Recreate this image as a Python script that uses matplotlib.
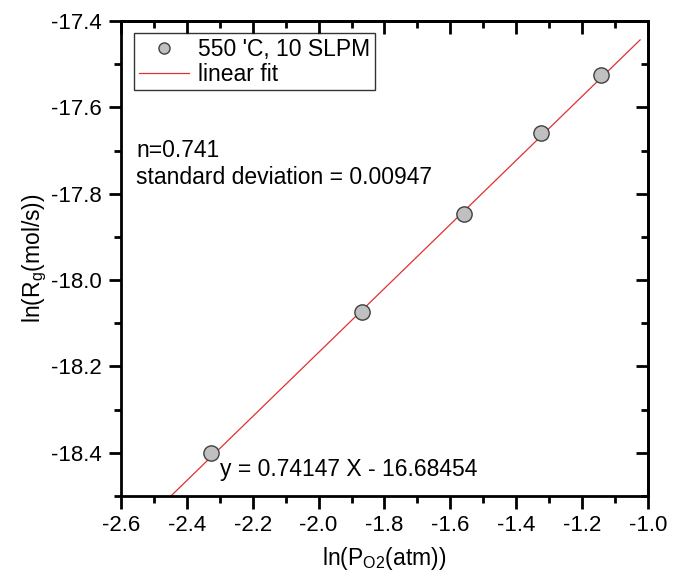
import numpy as np
import matplotlib
matplotlib.use("Agg")
import matplotlib.pyplot as plt
from matplotlib.ticker import MultipleLocator

plt.rcParams['font.family'] = ['Liberation Sans', 'DejaVu Sans']
plt.rcParams['mathtext.fontset'] = 'custom'
plt.rcParams['mathtext.rm'] = 'Liberation Sans'
plt.rcParams['axes.unicode_minus'] = False

# data
ln_po2 = [-2.327, -1.868, -1.559, -1.325, -1.143]
ln_rg = [-18.400, -18.074, -17.847, -17.659, -17.525]
slope = 0.74147
intercept = -16.68454
fit_x = [-2.6, -1.024]

fig = plt.figure(figsize=(6.83, 5.81), dpi=100)
ax = fig.add_axes([121/683, 85/581, 527/683, 475/581])

fx = np.array(fit_x)
ax.plot(fx, slope*fx + intercept, color="#e03030", lw=0.9, label="linear fit", zorder=2)
ax.plot(ln_po2, ln_rg, "o", ms=11, mfc="#c0c0c0", mec="#404040", mew=1.0,
        label="550 'C, 10 SLPM", zorder=3)

ax.set_xlim(-2.6, -1.0)
ax.set_ylim(-18.5, -17.4)
ax.xaxis.set_major_locator(MultipleLocator(0.2))
ax.xaxis.set_minor_locator(MultipleLocator(0.1))
ax.yaxis.set_major_locator(MultipleLocator(0.2))
ax.yaxis.set_minor_locator(MultipleLocator(0.1))
for s in ax.spines.values():
    s.set_linewidth(2)

ax.tick_params(which="both", labelsize=16, width=2)
ax.tick_params(which="major", length=9)
ax.tick_params(which="minor", length=5)
ax.tick_params(axis="x", which="both", direction="out", top=False, pad=5)
ax.tick_params(axis="y", which="both", direction="out", right=False, pad=5)

# inward ticks on top and right
ax2 = ax.secondary_xaxis("top")
ax2.xaxis.set_major_locator(MultipleLocator(0.2))
ax2.xaxis.set_minor_locator(MultipleLocator(0.1))
ax2.tick_params(which="both", direction="in", width=2, labeltop=False)
ax2.tick_params(which="major", length=9)
ax2.tick_params(which="minor", length=5)
ax2.spines["top"].set_linewidth(2)
ax3 = ax.secondary_yaxis("right")
ax3.yaxis.set_major_locator(MultipleLocator(0.2))
ax3.yaxis.set_minor_locator(MultipleLocator(0.1))
ax3.tick_params(which="both", direction="in", width=2, labelright=False)
ax3.tick_params(which="major", length=9)
ax3.tick_params(which="minor", length=5)
ax3.spines["right"].set_linewidth(2)

ax.set_xlabel(r"ln(P$_{\mathrm{O2}}$(atm))", fontsize=16.5, labelpad=6)
ax.set_ylabel(r"ln(R$_{\mathrm{g}}$(mol/s))", fontsize=16.5, labelpad=1)

h, l = ax.get_legend_handles_labels()
leg = ax.legend(h[::-1], l[::-1], loc="upper left", bbox_to_anchor=(13/527, 1-12/475),
                fontsize=16.5, frameon=True, fancybox=False, edgecolor="black",
                borderpad=0.2, handlelength=2.2, handletextpad=0.4, labelspacing=0.1,
                borderaxespad=0)
leg.get_frame().set_linewidth(1)
for lh in leg.legend_handles:
    try:
        lh.set_markersize(8)
    except Exception:
        pass

ax.text(15/527, 1-136/475, "n=0.741", transform=ax.transAxes, fontsize=16.5, va="baseline")
ax.text(15/527, 1-163/475, "standard deviation = 0.00947", transform=ax.transAxes,
        fontsize=16.5, va="baseline")
ax.text(-2.300, -18.4545, "y = 0.74147 X - 16.68454", fontsize=16.5, va="baseline")

fig.savefig("out.png", dpi=100)
